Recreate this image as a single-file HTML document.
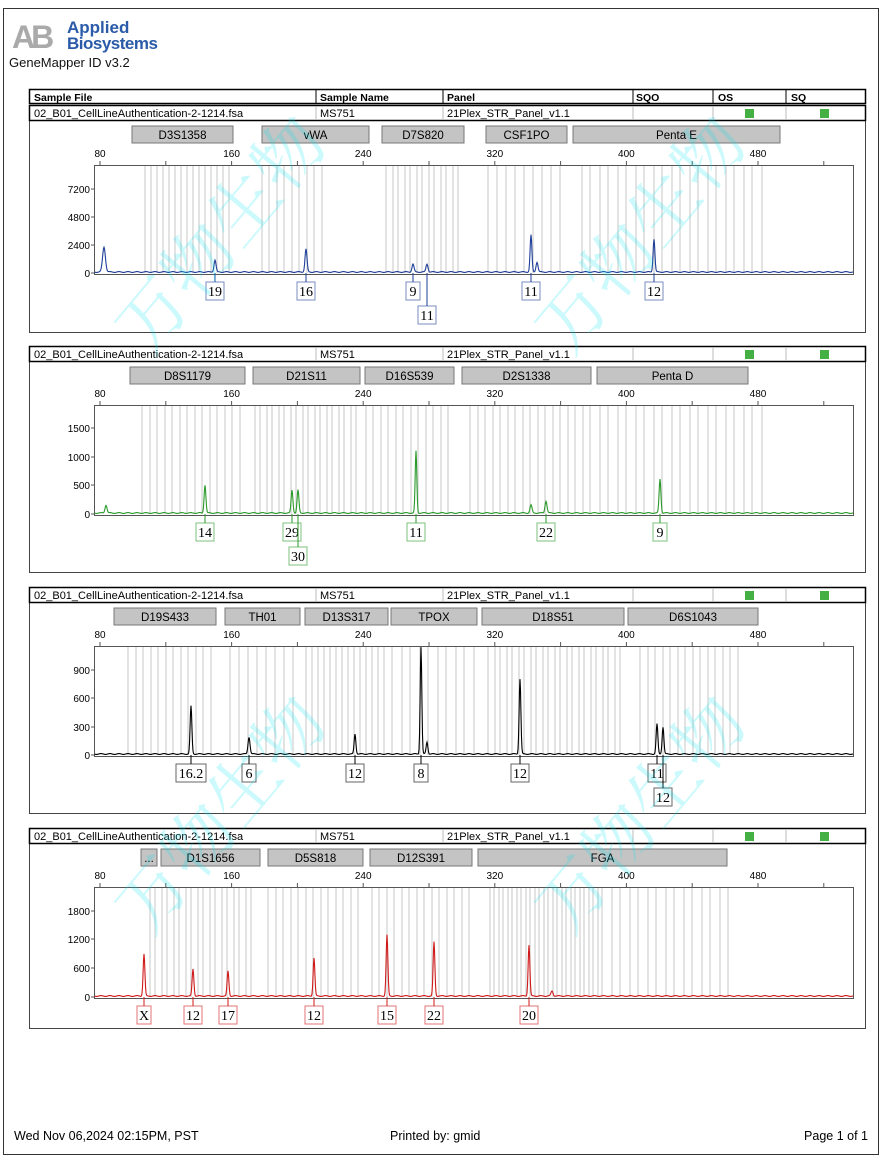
<!DOCTYPE html>
<html><head><meta charset="utf-8"><style>
html,body{margin:0;padding:0;background:#fff;width:882px;height:1159px;overflow:hidden}
svg text{font-family:"Liberation Sans","Noto Sans CJK SC",sans-serif}
</style></head><body>
<svg id="s" width="882" height="1159" xmlns="http://www.w3.org/2000/svg"></svg>
<script>
const S=document.getElementById('s');let h='';
const X=bp=>100+(bp-80)*1.645;
h+='<rect x="3.5" y="8.5" width="875" height="1146" fill="none" stroke="#333" stroke-width="1"/>';
h+='<text x="12" y="48" font-size="32" font-weight="bold" fill="#aaa" letter-spacing="-4">AB</text>';
h+='<text x="67" y="33" font-size="17" font-weight="bold" fill="#2a5aa8">Applied</text>';
h+='<text x="67" y="49" font-size="17" font-weight="bold" fill="#2a5aa8" letter-spacing="-0.5">Biosystems</text>';
h+='<text x="9" y="67" font-size="13" fill="#111">GeneMapper ID v3.2</text>';
h+='<rect x="29.5" y="89.5" width="836" height="14" fill="#fff" stroke="#000" stroke-width="1.5"/>';
[['Sample File',34],['Sample Name',320],['Panel',447],['SQO',636],['OS',718],['SQ',791]].forEach(a=>h+=`<text x="${a[1]}" y="101" font-size="10.5" font-weight="bold">${a[0]}</text>`);
[316,443,633,713,786].forEach(x=>h+=`<line x1="${x}" y1="90" x2="${x}" y2="104" stroke="#000"/>`);
const panels=[
{top:106,bot:332,col:'#1f3f99',base:273,ptop:165,ylab:[[7200,189],[4800,217],[2400,245],[0,273]],
mk:[['D3S1358',132,233],['vWA',262,369],['D7S820',382,464],['CSF1PO',486,567],['Penta E',573,780]],
bins:[[145,232,5],[262,322,6],[386,460,5],[488,567,7],[582,765,8]],
pk:[[104,25,4],[215,12,2],[306,23,2],[413,8,2],[427,8,2],[531,37,1.6],[537,10,2],[654,33,1.6]],
lb:[['19',215,0],['16',306,0],['9',413,0],['11',427,1],['11',531,0],['12',654,0]]},
{top:347,bot:572,col:'#2a9a2a',base:514,ptop:405,ylab:[[1500,428],[1000,457],[500,485],[0,514]],
mk:[['D8S1179',130,245],['D21S11',253,360],['D16S539',365,454],['D2S1338',462,591],['Penta D',597,748]],
bins:[[142,245,7],[255,360,5],[366,455,7],[470,591,6],[600,765,8]],
pk:[[106,8,2],[205,28,1.6],[292,23,1.6],[298,23,1.6],[416,62,1.3],[531,8,2],[546,12,2],[660,34,1.6]],
lb:[['14',205,0],['29',292,0],['30',298,1],['11',416,0],['22',546,0],['9',660,0]]},
{top:588,bot:813,col:'#000',base:755,ptop:646,ylab:[[900,670],[600,698],[300,727],[0,755]],
mk:[['D19S433',114,216],['TH01',225,300],['D13S317',305,388],['TPOX',391,477],['D18S51',482,624],['D6S1043',628,758]],
bins:[[128,212,6],[230,300,7],[306,388,6],[392,478,8],[488,624,5],[640,740,7]],
pk:[[191,48,1.5],[249,17,2],[355,20,1.5],[421,107,1.3],[427,12,1.5],[520,75,1.5],[657,30,1.5],[663,27,1.5]],
lb:[['16.2',191,0],['6',249,0],['12',355,0],['8',421,0],['12',520,0],['11',657,0],['12',663,1]]},
{top:829,bot:1028,col:'#d01a1a',base:997,ptop:887,ylab:[[1800,911],[1200,939],[600,968],[0,997]],
mk:[['...',141,157],['D1S1656',161,260],['D5S818',268,363],['D12S391',370,472],['FGA',478,727]],
bins:[[150,255,5],[268,360,7],[372,470,7],[490,602,3],[612,730,8]],
pk:[[144,42,1.5],[193,27,1.5],[228,25,1.5],[314,38,1.5],[387,61,1.5],[434,54,1.5],[529,51,1.5],[552,5,2]],
lb:[['X',144,0],['12',193,0],['17',228,0],['12',314,0],['15',387,0],['22',434,0],['20',529,0]]}
];
panels.forEach(p=>{
 const t=p.top;
 h+=`<rect x="29.5" y="${t-0.5}" width="836" height="${p.bot-t+1}" fill="none" stroke="#444"/>`;
 h+=`<rect x="29.5" y="${t-0.5}" width="836" height="15" fill="none" stroke="#000" stroke-width="1.5"/>`;
 [316,443,633,713,786].forEach(x=>h+=`<line x1="${x}" y1="${t}" x2="${x}" y2="${t+14}" stroke="#bbb"/>`);
 h+=`<text x="34" y="${t+11}" font-size="11">02_B01_CellLineAuthentication-2-1214.fsa</text><text x="320" y="${t+11}" font-size="11">MS751</text><text x="447" y="${t+11}" font-size="11">21Plex_STR_Panel_v1.1</text>`;
 h+=`<rect x="745" y="${t+3}" width="9" height="9" fill="#44b044"/><rect x="820" y="${t+3}" width="9" height="9" fill="#44b044"/>`;
 const my=t+20;
 p.mk.forEach(m=>{h+=`<rect x="${m[1]}" y="${my}" width="${m[2]-m[1]}" height="17" fill="#c4c4c4" stroke="#777"/><text x="${(m[1]+m[2])/2}" y="${my+13}" font-size="11.5" text-anchor="middle">${m[0]}</text>`});
 const ay=p.ptop-8;
 [80,160,240,320,400,480].forEach(v=>h+=`<text x="${X(v)}" y="${ay}" font-size="10" text-anchor="middle">${v}</text>`);
 p.bins.forEach(b=>{for(let x=b[0];x<=b[1];x+=b[2]+((x*7)%3)){h+=`<line x1="${x}" y1="${p.ptop}" x2="${x}" y2="${p.base}" stroke="#d4d4d4" stroke-width="1.3"/>`}});
 h+=`<rect x="94.5" y="${p.ptop+0.5}" width="759" height="${p.base-p.ptop+1}" fill="none" stroke="#555"/>`;
 for(let v=80;v<=520;v+=40){const x=X(v);h+=`<line x1="${x}" y1="${p.ptop-4}" x2="${x}" y2="${p.ptop+1}" stroke="#555"/>`}
 p.ylab.forEach(y=>{h+=`<text x="90" y="${y[1]+4}" font-size="10" text-anchor="end">${y[0]}</text><line x1="91" y1="${y[1]}" x2="95" y2="${y[1]}" stroke="#555"/>`});
 let d='M95 '+(p.base-1);
 for(let x=95;x<=853;x+=0.5){let y=1+0.4*Math.sin(x*0.7);p.pk.forEach(k=>{y+=k[1]*Math.exp(-((x-k[0])**2)/k[2])});d+=` L${x} ${(p.base-y).toFixed(1)}`;}
 h+=`<path d="${d}" fill="none" stroke="${p.col}" stroke-width="1.1"/>`;
 p.lb.forEach(l=>{const w=l[0].length>2?30:(l[0].length==2?18:14);const by=p.base+9+l[2]*24;
  h+=`<line x1="${l[1]}" y1="${p.base}" x2="${l[1]}" y2="${by}" stroke="${p.col}"/>`;
  h+=`<rect x="${l[1]-w/2}" y="${by}" width="${w}" height="18" fill="#fff" stroke="${p.col}" stroke-opacity="0.6"/><text x="${l[1]}" y="${by+14}" font-size="14" text-anchor="middle" style="font-family:'Liberation Serif',serif">${l[0]}</text>`});
});
[[240,250],[660,250],[240,830],[660,830]].forEach(w=>h+=`<text x="${w[0]}" y="${w[1]}" font-size="70" fill="#00e5f0" fill-opacity="0.2" text-anchor="middle" transform="rotate(-50 ${w[0]} ${w[1]})" style="font-family:'Noto Serif CJK SC',serif">万物生物</text>`);
h+='<text x="14" y="1140" font-size="12.5">Wed Nov 06,2024 02:15PM, PST</text><text x="390" y="1140" font-size="12.5">Printed by: gmid</text><text x="868" y="1140" font-size="12.5" text-anchor="end">Page 1 of 1</text>';
S.innerHTML=h;
</script>
</body></html>
